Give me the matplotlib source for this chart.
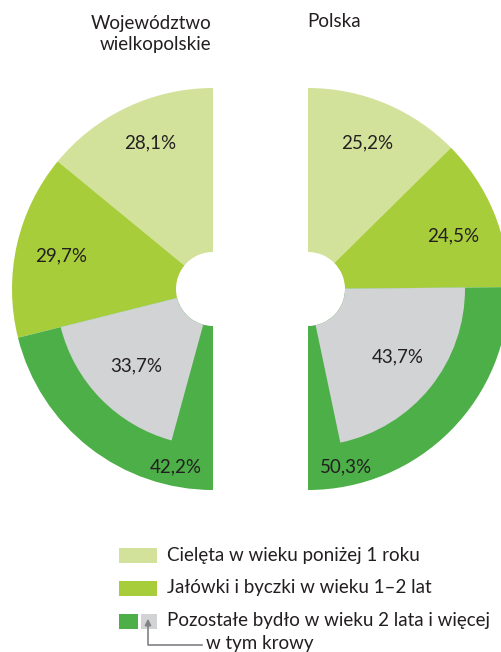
import matplotlib
matplotlib.use("Agg")
import matplotlib.pyplot as plt
from matplotlib.patches import Rectangle

# dane: udzial grup bydla (%)
groups = ['Cielęta w wieku poniżej 1 roku',
          'Jałówki i byczki w wieku 1–2 lat',
          'Pozostałe bydło w wieku 2 lata i więcej']
wlkp = [28.1, 29.7, 42.2]
polska = [25.2, 24.5, 50.3]
cows_wlkp = 33.7
cows_polska = 43.7
titles = ['Województwo\nwielkopolskie', 'Polska']

colors = ['#d3e29b', '#a8cd3a', '#4caf47']
grey = '#d1d3d4'
txt = '#231f20'

plt.rcParams['font.family'] = ['Lato', 'DejaVu Sans']

W, H = 502, 652
fig = plt.figure(figsize=(W / 100, H / 100), dpi=100)
ax = fig.add_axes([0, 0, 1, 1])


def py(y):
    return H - y


R, r_hole, r_cow = 201, 37, 157
centers = [(213, py(289)), (308, py(289))]


def half_donut(values, cows, center, ccw):
    # pol kola = 100%, druga polowa niewidoczna
    ax.pie(values + [100], colors=colors + ['none'], startangle=90,
           counterclock=ccw, radius=R, center=center, frame=True,
           wedgeprops=dict(width=R - r_hole, linewidth=0))
    before = values[0] + values[1]
    ax.pie([before, cows, 200 - before - cows], colors=['none', grey, 'none'],
           startangle=90, counterclock=ccw, radius=r_cow, center=center,
           frame=True, wedgeprops=dict(width=r_cow - r_hole, linewidth=0))


half_donut(wlkp, cows_wlkp, centers[0], True)
half_donut(polska, cows_polska, centers[1], False)


def pct(v):
    return f'{v:.1f}%'.replace('.', ',')


# etykiety
fs = 13.5
lab_left = [(150, 143), (61, 256), (176, 467)]
lab_right = [(367, 143), (453, 236), (346, 467)]
for v, (x, y) in zip(wlkp, lab_left):
    ax.text(x, py(y), pct(v), ha='center', va='center', fontsize=fs, color=txt)
for v, (x, y) in zip(polska, lab_right):
    ax.text(x, py(y), pct(v), ha='center', va='center', fontsize=fs, color=txt)
ax.text(136, py(366), pct(cows_wlkp), ha='center', va='center', fontsize=fs, color=txt)
ax.text(398, py(357), pct(cows_polska), ha='center', va='center', fontsize=fs, color=txt)

ax.text(211, py(34), titles[0], ha='right', va='center', multialignment='right',
        fontsize=fs, color=txt, linespacing=1.35)
ax.text(334, py(21), titles[1], ha='center', va='center', fontsize=fs, color=txt)

# legenda
rows_y = [555, 588, 621]
for i, (name, y) in enumerate(zip(groups, rows_y)):
    if i < 2:
        ax.add_patch(Rectangle((119, py(y + 8)), 38, 15, color=colors[i], lw=0))
    else:
        ax.add_patch(Rectangle((119, py(y + 8)), 19, 15, color=colors[2], lw=0))
        ax.add_patch(Rectangle((141, py(y + 8)), 16, 15, color=grey, lw=0))
    ax.text(167, py(y), name, ha='left', va='center', fontsize=fs, color=txt)

ax.text(206, py(644), 'w tym krowy', ha='left', va='center', fontsize=fs, color=txt)
ax.plot([202, 148, 148], [py(645), py(645), py(624)], color='#808285', lw=1.2)
ax.annotate('', xy=(148, py(616)), xytext=(148, py(626)),
            arrowprops=dict(arrowstyle='-|>', color='#808285', lw=1.2, mutation_scale=9))

ax.set_xlim(0, W)
ax.set_ylim(0, H)
ax.set_aspect('equal')
ax.axis('off')

fig.savefig('out.png', dpi=100)
